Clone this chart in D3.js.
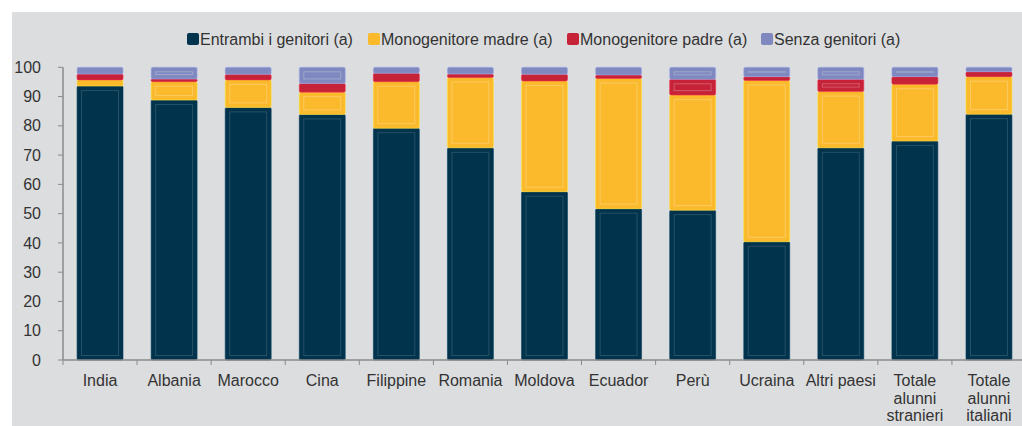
<!DOCTYPE html>
<html><head><meta charset="utf-8">
<script src="https://cdn.jsdelivr.net/npm/d3@7"></script>
<style>
html,body{margin:0;padding:0;background:#fff;}
svg{display:block;font-family:"Liberation Sans",Arial,sans-serif;}
</style></head>
<body><svg id="c" width="1022" height="426"></svg>
<script>
const categories = ["India","Albania","Marocco","Cina","Filippine","Romania","Moldova","Ecuador","Perù","Ucraina","Altri paesi","Totale alunni stranieri","Totale alunni italiani"];
const entrambi = [93.6, 88.8, 86.3, 83.9, 79.2, 72.5, 57.5, 51.7, 51.2, 40.4, 72.5, 74.8, 84.0];
const madre    = [2.1, 6.3, 9.4, 7.6, 15.9, 24.0, 37.8, 44.5, 39.3, 55.1, 19.2, 19.4, 12.8];
const padre    = [2.0, 0.9, 1.9, 3.0, 2.9, 1.2, 2.3, 1.2, 5.4, 1.3, 4.2, 2.6, 1.7];
const senza    = [2.3, 4.0, 2.4, 5.5, 2.0, 2.3, 2.4, 2.6, 4.1, 3.2, 4.1, 3.2, 1.5];
const seriesNames = ["Entrambi i genitori (a)","Monogenitore madre (a)","Monogenitore padre (a)","Senza genitori (a)"];
const colors = ["#01334c","#fbb92c","#c62238","#7f89bf"];
const yTicks = [0,10,20,30,40,50,60,70,80,90,100];

const svg = d3.select("#c");
svg.append("rect").attr("x",12).attr("y",12).attr("width",1010).attr("height",414).attr("fill","#dcdddf");

const x = d3.scaleBand().domain(categories).range([63,1026]).paddingInner(0.38).paddingOuter(0.19);
const y = d3.scaleLinear().domain([0,100]).range([360,67.3]);

const rows = categories.map((c,i)=>({cat:c, s0:entrambi[i], s1:madre[i], s2:padre[i], s3:senza[i]}));
const stack = d3.stack().keys(["s0","s1","s2","s3"])(rows);

const g = svg.append("g");
stack.forEach((layer,k)=>{
  layer.forEach(d=>{
    const x0 = x(d.data.cat), w = x.bandwidth();
    const yt = y(d[1]), yb = y(d[0]);
    const h = yb-yt;
    g.append("rect").attr("x",x0).attr("y",yt).attr("width",w).attr("height",h)
      .attr("fill",colors[k]).attr("stroke",d3.color(colors[k]).brighter(0.6)).attr("stroke-opacity",0.6).attr("stroke-width",1).attr("rx",1.5);
    if(h>9){
      g.append("rect").attr("x",x0+4.5).attr("y",yt+4.5).attr("width",w-9).attr("height",Math.max(0,h-9))
        .attr("fill","none").attr("stroke","#ffffff").attr("stroke-opacity",k===0?0.15:0.25).attr("stroke-width",1);
    }
  });
});

// y axis
const axisColor = "#8a8a8a";
const yg = svg.append("g");
yg.append("line").attr("x1",63).attr("x2",63).attr("y1",y(0)).attr("y2",y(100)).attr("stroke",axisColor).attr("stroke-width",1.5);
yTicks.forEach(t=>{
  yg.append("line").attr("x1",58).attr("x2",63).attr("y1",y(t)).attr("y2",y(t)).attr("stroke",axisColor).attr("stroke-width",1);
  yg.append("text").attr("x",41).attr("y",y(t)).attr("dy","0.35em").attr("text-anchor","end")
    .attr("font-size",16).attr("fill","#333").text(t);
});

// x axis
const xg = svg.append("g");
xg.append("line").attr("x1",63).attr("x2",1022).attr("y1",360).attr("y2",360).attr("stroke",axisColor).attr("stroke-width",1.5);
const step = x.step();
categories.forEach((c,i)=>{
  const bx = 63 + i*step;
  xg.append("line").attr("x1",bx).attr("x2",bx).attr("y1",360).attr("y2",365).attr("stroke",axisColor).attr("stroke-width",1);
});
const labelLines = {"Totale alunni stranieri":["Totale","alunni","stranieri"],"Totale alunni italiani":["Totale","alunni","italiani"]};
categories.forEach(c=>{
  const cx = x(c)+x.bandwidth()/2;
  const lines = labelLines[c] || [c];
  const t = xg.append("text").attr("text-anchor","middle").attr("font-size",16).attr("fill","#333");
  lines.forEach((l,j)=>{
    t.append("tspan").attr("x",cx).attr("y",386+j*17.5).text(l);
  });
});

// legend
const legendX = [187, 368, 567, 761];
const lg = svg.append("g");
seriesNames.forEach((n,i)=>{
  lg.append("rect").attr("x",legendX[i]).attr("y",33).attr("width",12).attr("height",12).attr("rx",2).attr("fill",colors[i]);
  lg.append("text").attr("x",legendX[i]+13).attr("y",39).attr("dy","0.35em").attr("font-size",16).attr("fill","#333").text(n);
});
</script>
</body></html>
